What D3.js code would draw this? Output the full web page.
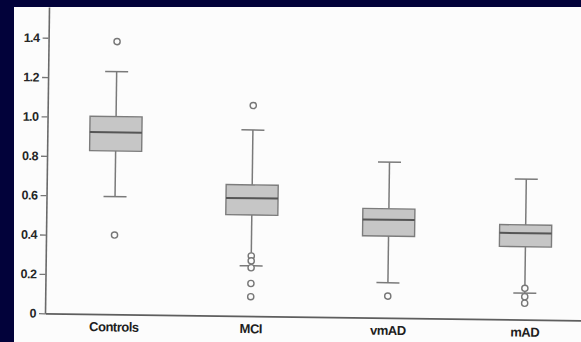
<!DOCTYPE html>
<html>
<head>
<meta charset="utf-8">
<script src="https://cdn.jsdelivr.net/npm/d3@7"></script>
<style>
  html, body { margin: 0; padding: 0; background: #02023a; }
  svg { display: block; }
</style>
</head>
<body>
<svg id="chart" width="581" height="342"></svg>
<script>
// Group names along the x axis
const categories = ["Controls", "MCI", "vmAD", "mAD"];

// Box statistics per group
const whiskerLow  = [0.597, 0.255, 0.178, 0.134];
const q1          = [0.829, 0.513, 0.415, 0.370];
const medians     = [0.924, 0.598, 0.498, 0.439];
const q3          = [1.004, 0.666, 0.554, 0.481];
const whiskerHigh = [1.232, 0.945, 0.791, 0.714];

// Individual outlying values per group
const outliers = [
  [1.385, 0.402],
  [1.069, 0.305, 0.280, 0.245, 0.165, 0.098],
  [0.110],
  [0.159, 0.116, 0.083]
];

// Y axis tick values
const yTicks = [0, 0.2, 0.4, 0.6, 0.8, 1.0, 1.2, 1.4];

const svg = d3.select("#chart");
const W = 581, H = 342;

// page area
svg.append("rect")
  .attr("x", 14).attr("y", 7)
  .attr("width", W - 14).attr("height", H - 7)
  .attr("fill", "#fcfcfc");

const originX = 45, originY = 313.3;

const x = d3.scalePoint()
  .domain(categories)
  .range([originX, 593])
  .padding(0.5);

const y = d3.scaleLinear()
  .domain([0, 1.556])
  .range([originY, 7]);

const boxW = x.step() * 0.38;
const capW = 23;

// the printed figure sits slightly rotated on the page
const g = svg.append("g")
  .attr("transform", `rotate(0.75, ${originX}, ${originY})`);

// Y axis
const yAxis = g.append("g")
  .attr("transform", `translate(${originX},0)`)
  .call(d3.axisLeft(y)
    .tickValues(yTicks)
    .tickSizeInner(6)
    .tickSizeOuter(0)
    .tickPadding(3)
    .tickFormat(d => d === 0 ? "0" : d3.format(".1f")(d)));
yAxis.select(".domain").attr("stroke", "#6a6a6a").attr("stroke-width", 1.6);
yAxis.selectAll(".tick line").attr("stroke", "#777").attr("stroke-width", 1.3);
yAxis.selectAll(".tick text")
  .attr("fill", "#262626")
  .style("font-family", "'Liberation Sans', Arial, sans-serif")
  .style("font-weight", "bold")
  .style("font-size", "12.5px")
  .style("letter-spacing", "-0.5px");

// X axis
const xAxis = g.append("g")
  .attr("transform", `translate(0,${originY})`)
  .call(d3.axisBottom(x).tickSize(0).tickPadding(8));
xAxis.select(".domain").attr("stroke", "#5e5e5e").attr("stroke-width", 1.8);
xAxis.selectAll(".tick text")
  .attr("fill", "#1e1e1e")
  .style("font-family", "'Liberation Sans', Arial, sans-serif")
  .style("font-weight", "bold")
  .style("font-size", "13px")
  .style("letter-spacing", "-0.5px");

const data = categories.map((c, i) => ({
  c, lo: whiskerLow[i], q1: q1[i], med: medians[i], q3: q3[i], hi: whiskerHigh[i], out: outliers[i]
}));

const boxes = g.selectAll(".box").data(data).enter().append("g").attr("class", "box");

const lineColor = "#7a7a7a";

// whisker stems
boxes.append("line")
  .attr("x1", d => x(d.c)).attr("x2", d => x(d.c))
  .attr("y1", d => y(d.hi)).attr("y2", d => y(d.q3))
  .attr("stroke", lineColor).attr("stroke-width", 1.5);
boxes.append("line")
  .attr("x1", d => x(d.c)).attr("x2", d => x(d.c))
  .attr("y1", d => y(d.q1)).attr("y2", d => y(d.lo))
  .attr("stroke", lineColor).attr("stroke-width", 1.5);

// whisker caps
boxes.append("line")
  .attr("x1", d => x(d.c) - capW / 2).attr("x2", d => x(d.c) + capW / 2)
  .attr("y1", d => y(d.hi)).attr("y2", d => y(d.hi))
  .attr("stroke", lineColor).attr("stroke-width", 1.5);
boxes.append("line")
  .attr("x1", d => x(d.c) - capW / 2).attr("x2", d => x(d.c) + capW / 2)
  .attr("y1", d => y(d.lo)).attr("y2", d => y(d.lo))
  .attr("stroke", lineColor).attr("stroke-width", 1.5);

// interquartile box
boxes.append("rect")
  .attr("x", d => x(d.c) - boxW / 2)
  .attr("width", boxW)
  .attr("y", d => y(d.q3))
  .attr("height", d => y(d.q1) - y(d.q3))
  .attr("fill", "#c6c6c6")
  .attr("stroke", "#7c7c7c")
  .attr("stroke-width", 1.4);

// median
boxes.append("line")
  .attr("x1", d => x(d.c) - boxW / 2).attr("x2", d => x(d.c) + boxW / 2)
  .attr("y1", d => y(d.med)).attr("y2", d => y(d.med))
  .attr("stroke", "#555").attr("stroke-width", 2);

// outliers
boxes.selectAll(".out")
  .data(d => d.out.map(v => ({ c: d.c, v })))
  .enter().append("circle")
  .attr("class", "out")
  .attr("cx", d => x(d.c))
  .attr("cy", d => y(d.v))
  .attr("r", 3.1)
  .attr("fill", "#fcfcfc")
  .attr("stroke", "#777")
  .attr("stroke-width", 1.4);
</script>
</body>
</html>
